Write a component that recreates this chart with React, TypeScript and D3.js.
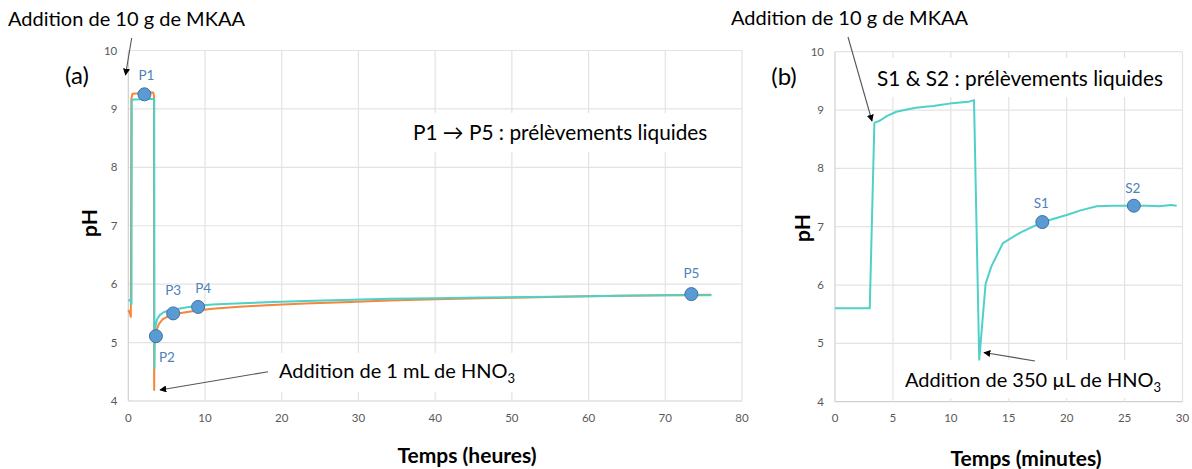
import React from 'react';
import * as d3 from 'd3';

const FONT = 'Lato, "Open Sans", sans-serif';

// ---------- Panel (a): time in hours ----------
const hoursTicks = [0, 10, 20, 30, 40, 50, 60, 70, 80];
const pHTicks = [4, 5, 6, 7, 8, 9, 10];

const tealHours = [0, 0.2, 0.38, 0.42, 0.45, 0.6, 1.2, 2.0, 3.0, 3.38, 3.4, 3.43, 3.55, 3.75, 4.1, 4.6, 5.3, 6.2, 7.5, 9.0, 11, 14, 18, 23, 28, 34, 40, 46, 52, 58, 64, 70, 76];
const tealPH = [5.73, 5.72, 5.69, 5.66, 9.13, 9.16, 9.16, 9.17, 9.17, 9.17, 4.56, 5.1, 5.28, 5.4, 5.47, 5.52, 5.55, 5.57, 5.6, 5.63, 5.65, 5.67, 5.69, 5.71, 5.73, 5.75, 5.76, 5.77, 5.78, 5.79, 5.8, 5.81, 5.81];

const orangeHours = [0, 0.15, 0.3, 0.33, 0.4, 0.55, 1.5, 2.5, 3.25, 3.35, 3.37, 3.4, 3.5, 3.7, 4.0, 4.5, 5.2, 6.0, 7.5, 9.0, 11, 14, 18, 23, 28, 34, 40, 46, 52, 58, 64, 70, 76];
const orangePH = [5.56, 5.52, 5.46, 5.44, 9.18, 9.26, 9.27, 9.28, 9.28, 9.22, 4.19, 4.9, 5.08, 5.22, 5.32, 5.4, 5.45, 5.49, 5.52, 5.55, 5.58, 5.61, 5.64, 5.67, 5.69, 5.72, 5.74, 5.76, 5.77, 5.79, 5.8, 5.81, 5.82];

const samplesA = ['P1', 'P2', 'P3', 'P4', 'P5'];
const samplesAHours = [2.1, 3.6, 5.85, 9.1, 73.4];
const samplesAPH = [9.25, 5.11, 5.5, 5.61, 5.83];

// ---------- Panel (b): time in minutes ----------
const minutesTicks = [0, 5, 10, 15, 20, 25, 30];
const tealMinutes = [0, 3.0, 3.4, 3.9, 4.5, 5.3, 6.2, 7.0, 8.0, 8.5, 9.2, 9.9, 10.8, 11.5, 12.0, 12.45, 13.0, 13.5, 14.5, 16.0, 17.9, 18.6, 20.0, 21.2, 22.6, 24.0, 25.8, 27.0, 28.0, 29.0, 29.5];
const tealMinPH = [5.6, 5.6, 8.78, 8.82, 8.9, 8.97, 9.01, 9.04, 9.06, 9.07, 9.09, 9.11, 9.13, 9.14, 9.17, 4.72, 6.02, 6.32, 6.72, 6.9, 7.08, 7.12, 7.2, 7.28, 7.35, 7.36, 7.36, 7.36, 7.35, 7.37, 7.36];

const samplesB = ['S1', 'S2'];
const samplesBMinutes = [17.9, 25.8];
const samplesBPH = [7.08, 7.36];

// ---------- styles ----------
const TEAL = '#4fd0c8';
const ORANGE = '#f4873b';
const MARKER_FILL = '#5b9bd5';
const MARKER_STROKE = '#41719c';
const LABEL_BLUE = '#4f81bd';
const GRID = '#e3e3e3';
const TICK = '#595959';

const labelOffsetsA = [[2, -19], [11, 21], [0, -23], [5, -19], [0, -21]];
const labelOffsetsB = [[-1, -19], [-1, -18]];

type Pt = [number, number];

function Grid({ x, y, xTicks }: { x: d3.ScaleLinear<number, number>; y: d3.ScaleLinear<number, number>; xTicks: number[] }) {
  const [x0, x1] = x.range();
  const [y0, y1] = y.range();
  return (
    <g>
      {pHTicks.map((t) => (
        <line key={'h' + t} x1={x0} x2={x1} y1={y(t)} y2={y(t)} stroke={t === 4 ? '#d0d0d0' : GRID} strokeWidth={1.2} />
      ))}
      {xTicks.map((t) => (
        <line key={'v' + t} x1={x(t)} x2={x(t)} y1={y0} y2={y1} stroke={t === 0 ? '#d0d0d0' : GRID} strokeWidth={1.2} />
      ))}
      {pHTicks.map((t) => (
        <text key={'yl' + t} x={x0 - 11} y={y(t) + 4} textAnchor="end" fontSize={11.5} fill={TICK} fontFamily={FONT}>
          {t}
        </text>
      ))}
      {xTicks.map((t) => (
        <text key={'xl' + t} x={x(t)} y={422} textAnchor="middle" fontSize={11.5} fill={TICK} fontFamily={FONT}>
          {t}
        </text>
      ))}
    </g>
  );
}

function Arrow({ from, to }: { from: Pt; to: Pt }) {
  return <line x1={from[0]} y1={from[1]} x2={to[0]} y2={to[1]} stroke="#555" strokeWidth={1.1} markerEnd="url(#arrowHead)" />;
}

function Box({ x, y, w, h }: { x: number; y: number; w: number; h: number }) {
  return <rect x={x} y={y} width={w} height={h} fill="#fff" />;
}

export default function App() {
  const xA = d3.scaleLinear().domain([0, 80]).range([128.3, 742]);
  const yA = d3.scaleLinear().domain([4, 10]).range([401, 50.5]);
  const xB = d3.scaleLinear().domain([0, 30]).range([835, 1182.5]);
  const yB = d3.scaleLinear().domain([4, 10]).range([401.7, 51.7]);

  const lineA = d3.line<Pt>().x((d) => xA(d[0])).y((d) => yA(d[1]));
  const lineB = d3.line<Pt>().x((d) => xB(d[0])).y((d) => yB(d[1]));

  const tealA: Pt[] = tealHours.map((t, i) => [t, tealPH[i]]);
  const orangeA: Pt[] = orangeHours.map((t, i) => [t, orangePH[i]]);
  const tealB: Pt[] = tealMinutes.map((t, i) => [t, tealMinPH[i]]);

  const textStyle = { fontFamily: FONT, fontSize: 20, fill: '#000' } as const;
  const wideText = { ...textStyle, fontSize: 20.8 } as const;

  return (
    <svg width={1192} height={469} style={{ position: 'absolute', left: 0, top: 0, background: '#fff' }}>
      <defs>
        <marker id="arrowHead" viewBox="0 0 10 10" refX={9} refY={5} markerWidth={7} markerHeight={7} orient="auto" markerUnits="userSpaceOnUse">
          <path d="M0,0 L10,5 L0,10 z" fill="#000" />
        </marker>
      </defs>
      <rect width={1192} height={469} fill="#fff" />

      {/* Panel (a) */}
      <Grid x={xA} y={yA} xTicks={hoursTicks} />
      <Box x={400} y={113} w={335} h={39} />
      <Box x={271} y={353} w={260} h={39} />
      <path d={lineA(orangeA) || ''} fill="none" stroke={ORANGE} strokeWidth={2} strokeLinejoin="round" />
      <path d={lineA(tealA) || ''} fill="none" stroke={TEAL} strokeWidth={2} strokeLinejoin="round" />
      {samplesA.map((s, i) => (
        <g key={s}>
          <circle cx={xA(samplesAHours[i])} cy={yA(samplesAPH[i])} r={6.5} fill={MARKER_FILL} stroke={MARKER_STROKE} strokeWidth={1} />
          <text x={xA(samplesAHours[i]) + labelOffsetsA[i][0]} y={yA(samplesAPH[i]) + labelOffsetsA[i][1] + 5} textAnchor="middle" fontSize={13.5} fill={LABEL_BLUE} fontFamily={FONT}>
            {s}
          </text>
        </g>
      ))}
      <text x={77} y={84} textAnchor="middle" style={{ ...textStyle, fontSize: 24 }}>(a)</text>
      <text x={8} y={26} style={textStyle}>Addition de 10 g de MKAA</text>
      <Arrow from={[131.7, 38]} to={[125.5, 75]} />
      <text x={413} y={140} style={wideText}>P1 → P5 : prélèvements liquides</text>
      <text x={279} y={378} style={textStyle}>
        Addition de 1 mL de HNO<tspan fontSize={13} dy={5}>3</tspan>
      </text>
      <Arrow from={[268, 371.7]} to={[160, 390]} />
      <text x={88} y={223} transform="rotate(-90 88 223)" textAnchor="middle" dominantBaseline="central" fontFamily={FONT} fontWeight="bold" fontSize={21}>pH</text>
      <text x={467} y={463} textAnchor="middle" fontFamily={FONT} fontWeight="bold" fontSize={21}>Temps (heures)</text>

      {/* Panel (b) */}
      <Grid x={xB} y={yB} xTicks={minutesTicks} />
      <Box x={868} y={58} w={310} h={39} />
      <Box x={895} y={360} w={283} h={38} />
      <path d={lineB(tealB) || ''} fill="none" stroke={TEAL} strokeWidth={2} strokeLinejoin="round" />
      {samplesB.map((s, i) => (
        <g key={s}>
          <circle cx={xB(samplesBMinutes[i])} cy={yB(samplesBPH[i])} r={6.5} fill={MARKER_FILL} stroke={MARKER_STROKE} strokeWidth={1} />
          <text x={xB(samplesBMinutes[i]) + labelOffsetsB[i][0]} y={yB(samplesBPH[i]) + labelOffsetsB[i][1] + 5} textAnchor="middle" fontSize={13.5} fill={LABEL_BLUE} fontFamily={FONT}>
            {s}
          </text>
        </g>
      ))}
      <text x={784} y={85} textAnchor="middle" style={{ ...textStyle, fontSize: 24 }}>(b)</text>
      <text x={968} y={25} textAnchor="end" style={textStyle}>Addition de 10 g de MKAA</text>
      <Arrow from={[848, 37]} to={[872, 121]} />
      <text x={877} y={86} style={wideText}>S1 &amp; S2 : prélèvements liquides</text>
      <text x={905} y={387} style={textStyle}>
        Addition de 350 µL de HNO<tspan fontSize={13} dy={5}>3</tspan>
      </text>
      <Arrow from={[1035, 361]} to={[984, 352.5]} />
      <text x={801} y={228} transform="rotate(-90 801 228)" textAnchor="middle" dominantBaseline="central" fontFamily={FONT} fontWeight="bold" fontSize={21}>pH</text>
      <text x={1026} y={466} textAnchor="middle" fontFamily={FONT} fontWeight="bold" fontSize={21}>Temps (minutes)</text>
    </svg>
  );
}
